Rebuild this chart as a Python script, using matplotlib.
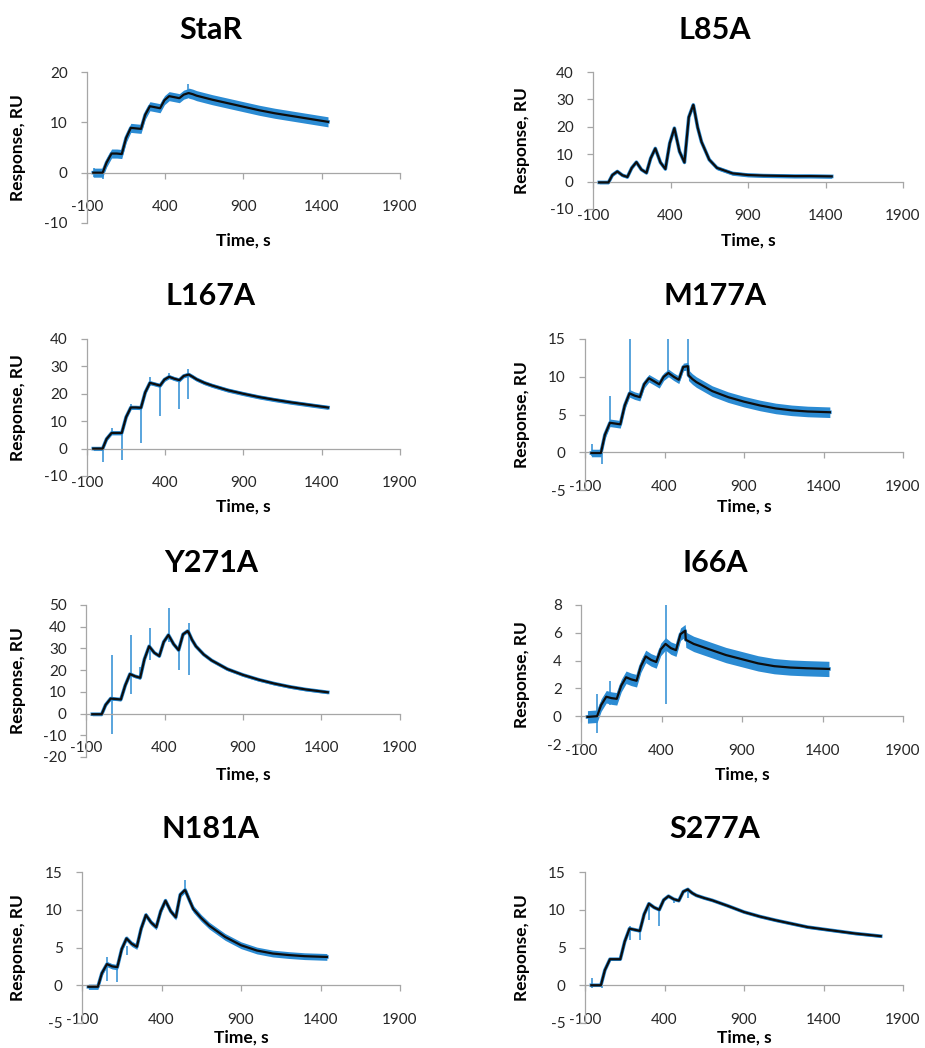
import matplotlib

matplotlib.use("Agg")
import matplotlib.pyplot as plt
import numpy as np

W_PX, H_PX = 925, 1048
BLUE = "#2b8bd3"
FIT_COLOR = "#0d0d0d"
AXIS = "#a6a6a6"
INK = "#262626"

X_TICKS = [-100, 400, 900, 1400, 1900]

# sample times (s) shared by the fitted curves
T = [-60, 0, 25, 57, 90, 122, 150, 180, 212, 245, 272, 302, 335, 367, 395, 425,
     458, 490, 518, 547, 551, 575, 600, 650, 700, 800, 900, 1000, 1100, 1200, 1300, 1440]
T_LONG = T + [1600, 1760]

# fitted responses (RU)
STAR_FIT = [0, 0, 2.0, 3.8, 3.8, 3.7, 6.9, 8.9, 8.8, 8.7, 11.5, 13.2, 13.0, 12.8, 14.4, 15.2,
            15.0, 14.8, 15.5, 15.8, 15.8, 15.6, 15.3, 14.9, 14.5, 13.8, 13.1, 12.4, 11.8, 11.3, 10.8, 10.1]
L85A_FIT = [-0.3, -0.3, 2.4, 3.7, 2.3, 1.7, 5.0, 7.1, 4.4, 3.2, 8.5, 12.1, 7.0, 4.6, 14.0, 19.5,
            11.0, 7.0, 23.5, 28.0, 27.0, 19.8, 14.5, 8.0, 5.0, 3.0, 2.4, 2.2, 2.1, 2.0, 2.0, 1.9]
L167A_FIT = [0, 0, 3.5, 5.7, 5.7, 5.7, 11.5, 15.0, 15.0, 14.9, 20.5, 24.0, 23.5, 23.0, 25.2, 26.2,
             25.5, 25.0, 26.5, 27.0, 27.0, 26.2, 25.3, 24.0, 23.0, 21.3, 20.0, 18.8, 17.8, 16.9, 16.1, 15.0]
M177A_FIT = [-0.1, -0.1, 2.3, 3.9, 3.8, 3.7, 6.2, 7.8, 7.5, 7.3, 9.0, 9.8, 9.4, 9.0, 10.0, 10.5,
             10.0, 9.6, 11.3, 11.4, 10.2, 9.7, 9.3, 8.7, 8.1, 7.3, 6.7, 6.2, 5.8, 5.55, 5.4, 5.3]
Y271A_FIT = [-0.3, -0.3, 4.0, 6.9, 6.7, 6.5, 13.0, 18.2, 17.2, 16.5, 25.0, 31.0, 28.0, 26.5, 33.0, 36.2,
             32.0, 29.2, 36.5, 38.0, 37.8, 34.0, 31.0, 27.2, 24.5, 20.5, 17.8, 15.6, 13.8, 12.3, 11.1, 9.8]
I66A_FIT = [-0.05, 0, 0.8, 1.4, 1.3, 1.25, 2.2, 2.8, 2.65, 2.55, 3.6, 4.3, 4.05, 3.9, 4.8, 5.2,
            4.9, 4.75, 5.9, 6.15, 5.5, 5.35, 5.2, 5.0, 4.8, 4.4, 4.1, 3.8, 3.6, 3.5, 3.45, 3.4]
N181A_FIT = [-0.2, -0.2, 1.6, 2.8, 2.5, 2.4, 4.8, 6.2, 5.5, 5.1, 7.5, 9.3, 8.3, 7.7, 9.8, 11.2,
             9.8, 9.0, 12.0, 12.6, 12.5, 11.3, 10.1, 8.9, 7.9, 6.4, 5.3, 4.6, 4.2, 4.0, 3.85, 3.75]
S277A_FIT = [0, 0, 2.0, 3.45, 3.45, 3.45, 5.8, 7.5, 7.35, 7.2, 9.4, 10.8, 10.3, 10.0, 11.3, 11.8,
             11.4, 11.2, 12.4, 12.7, 12.6, 12.2, 11.9, 11.55, 11.25, 10.5, 9.7, 9.1, 8.6, 8.15, 7.7, 7.3, 6.85, 6.5]

# half-width of the measured (blue) trace: association, dissociation
STAR_NOISE = [0.9, 1.0]
L85A_NOISE = [0.5, 0.7]
L167A_NOISE = [0.7, 0.7]
M177A_NOISE = [0.5, 0.7]
Y271A_NOISE = [0.7, 0.7]
I66A_NOISE = [0.45, 0.55]
N181A_NOISE = [0.35, 0.45]
S277A_NOISE = [0.15, 0.15]

# injection spikes in the measured trace: time, low, high
STAR_SPIKE_T = [-55, 5, 547]
STAR_SPIKE_LO = [-0.8, -1.3, 15.0]
STAR_SPIKE_HI = [0.9, 0.5, 17.7]
L85A_SPIKE_T = []
L85A_SPIKE_LO = []
L85A_SPIKE_HI = []
L167A_SPIKE_T = [0, 57, 122, 180, 245, 302, 367, 425, 490, 547]
L167A_SPIKE_LO = [-4.9, 5.0, -4.3, 14.5, 2.2, 23.0, 11.8, 25.5, 14.4, 18.0]
L167A_SPIKE_HI = [0.5, 7.6, 5.7, 16.2, 14.9, 26.0, 23.0, 27.7, 25.0, 29.0]
M177A_SPIKE_T = [-55, 5, 57, 180, 425, 547]
M177A_SPIKE_LO = [-0.5, -1.5, 3.9, 7.8, 10.5, 10.2]
M177A_SPIKE_HI = [1.1, 0.5, 7.4, 15.0, 15.0, 15.0]
Y271A_SPIKE_T = [63, 187, 245, 308, 431, 492, 554]
Y271A_SPIKE_LO = [-9.2, 9.2, 16.5, 24.6, 33.0, 20.0, 17.7]
Y271A_SPIKE_HI = [26.9, 36.2, 21.5, 39.2, 48.5, 29.0, 41.8]
I66A_SPIKE_T = [0, 82, 428]
I66A_SPIKE_LO = [-1.2, 0.8, 0.9]
I66A_SPIKE_HI = [1.6, 2.5, 8.0]
N181A_SPIKE_T = [57, 122, 180, 547]
N181A_SPIKE_LO = [0.5, 0.4, 4.0, 12.5]
N181A_SPIKE_HI = [3.7, 2.8, 5.2, 14.0]
S277A_SPIKE_T = [-55, 5, 180, 245, 302, 367, 458, 547]
S277A_SPIKE_LO = [-0.3, -0.4, 6.0, 6.0, 8.6, 7.9, 10.9, 11.6]
S277A_SPIKE_HI = [0.9, 0.2, 7.8, 7.3, 10.8, 10.0, 11.5, 12.9]

TITLES = ["StaR", "L85A", "L167A", "M177A", "Y271A", "I66A", "N181A", "S277A"]
YLIMS = [(-10, 20), (-10, 40), (-10, 40), (-5, 15), (-20, 50), (-2, 8), (-5, 15), (-5, 15)]
YTICKS = [
    [-10, 0, 10, 20],
    [-10, 0, 10, 20, 30, 40],
    [-10, 0, 10, 20, 30, 40],
    [-5, 0, 5, 10, 15],
    [-20, -10, 0, 10, 20, 30, 40, 50],
    [-2, 0, 2, 4, 6, 8],
    [-5, 0, 5, 10, 15],
    [-5, 0, 5, 10, 15],
]

# plot-area boxes in pixels: left, right, top, bottom
BOXES = [
    (87, 400, 72, 223), (593, 903, 72, 209),
    (87, 400, 339, 476), (585, 903, 339, 490),
    (86, 400, 605, 757), (581, 903, 605, 744),
    (82, 400, 872, 1023), (585, 903, 872, 1023),
]
TITLE_X = [211, 715]
TITLE_BASE = [39, 305, 572, 838]
XLABEL_BASE = [246, 512, 780, 1043]
YLABEL_X = [18, 522]


def fx(px):
    return px / W_PX


def fy(py):
    return 1 - py / H_PX


def draw_panel(ax, t, fit, noise, spikes, ylim, yticks):
    t = np.asarray(t, dtype=float)
    fit = np.asarray(fit, dtype=float)
    half = np.where(t <= 547, noise[0], noise[1])
    ax.fill_between(t, fit - half, fit + half, color=BLUE, lw=0, zorder=2)
    ax.plot(t, fit, color=BLUE, lw=2.6, zorder=2)
    st, lo, hi = spikes
    if st:
        ax.vlines(st, lo, hi, color=BLUE, lw=1.1, zorder=2)
    ax.plot(t, fit, color=FIT_COLOR, lw=1.6, zorder=3, solid_joinstyle="round")

    ax.set_xlim(-100, 1900)
    ax.set_ylim(*ylim)
    ax.set_xticks(X_TICKS)
    ax.set_yticks(yticks)
    ax.spines[["top", "right"]].set_visible(False)
    ax.spines["bottom"].set_position(("data", 0))
    for side in ("left", "bottom"):
        ax.spines[side].set_color(AXIS)
        ax.spines[side].set_linewidth(0.9)
    ax.tick_params(axis="x", direction="out", length=4.3, width=0.9, color=AXIS,
                   pad=15.5, labelsize=11, labelcolor=INK)
    ax.tick_params(axis="y", direction="out", length=4.3, width=0.9, color=AXIS,
                   pad=9.5, labelsize=11, labelcolor=INK)
    ax.patch.set_alpha(0)


def main() -> None:
    plt.rcParams.update({"font.family": "Lato", "axes.unicode_minus": False})
    fig = plt.figure(figsize=(W_PX / 100, H_PX / 100), dpi=100)

    series = [
        (T, STAR_FIT, STAR_NOISE, (STAR_SPIKE_T, STAR_SPIKE_LO, STAR_SPIKE_HI)),
        (T, L85A_FIT, L85A_NOISE, (L85A_SPIKE_T, L85A_SPIKE_LO, L85A_SPIKE_HI)),
        (T, L167A_FIT, L167A_NOISE, (L167A_SPIKE_T, L167A_SPIKE_LO, L167A_SPIKE_HI)),
        (T, M177A_FIT, M177A_NOISE, (M177A_SPIKE_T, M177A_SPIKE_LO, M177A_SPIKE_HI)),
        (T, Y271A_FIT, Y271A_NOISE, (Y271A_SPIKE_T, Y271A_SPIKE_LO, Y271A_SPIKE_HI)),
        (T, I66A_FIT, I66A_NOISE, (I66A_SPIKE_T, I66A_SPIKE_LO, I66A_SPIKE_HI)),
        (T, N181A_FIT, N181A_NOISE, (N181A_SPIKE_T, N181A_SPIKE_LO, N181A_SPIKE_HI)),
        (T_LONG, S277A_FIT, S277A_NOISE, (S277A_SPIKE_T, S277A_SPIKE_LO, S277A_SPIKE_HI)),
    ]

    for i, (t, fit, noise, spikes) in enumerate(series):
        left, right, top, bottom = BOXES[i]
        row, col = divmod(i, 2)
        ax = fig.add_axes([fx(left), fy(bottom), fx(right - left), (bottom - top) / H_PX])
        draw_panel(ax, t, fit, noise, spikes, YLIMS[i], YTICKS[i])

        fig.text(fx(TITLE_X[col]), fy(TITLE_BASE[row]), TITLES[i], ha="center", va="baseline",
                 fontsize=22, fontweight="bold", color="black")
        fig.text(fx((left + right) / 2), fy(XLABEL_BASE[row]), "Time, s", ha="center",
                 va="baseline", fontsize=12.5, fontweight="bold", color="black")
        fig.text(fx(YLABEL_X[col]), fy((top + bottom) / 2), "Response, RU", ha="center",
                 va="center", rotation=90, fontsize=12.5, fontweight="bold", color="black")

    fig.savefig("out.png", dpi=100, facecolor="white")
    plt.close(fig)


if __name__ == "__main__":
    main()
